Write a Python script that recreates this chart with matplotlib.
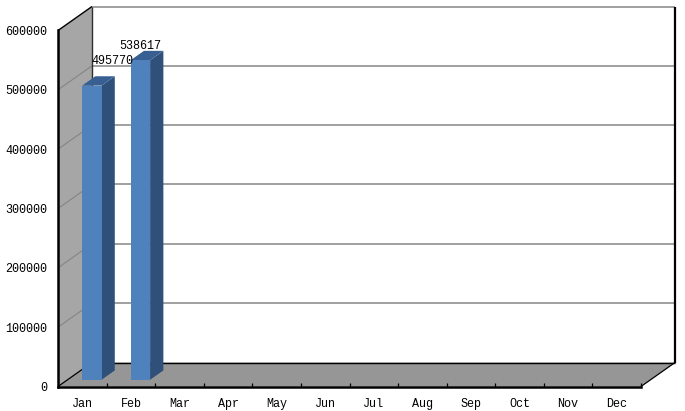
import matplotlib
matplotlib.use('Agg')
import matplotlib.pyplot as plt
from matplotlib.patches import Polygon

months = ['Jan', 'Feb', 'Mar', 'Apr', 'May', 'Jun', 'Jul', 'Aug', 'Sep', 'Oct', 'Nov', 'Dec']
values = [495770, 538617]
label_shift = [0.62, 0.2]
label_lift = [40000, 23500]
y_ticks = [0, 100000, 200000, 300000, 400000, 500000, 600000]

W, H = 685, 411
left, right, bottom, top = 58, 641, 386.5, 30.5
plt.rcParams['font.family'] = ['Liberation Mono', 'DejaVu Sans']
plt.rcParams['font.size'] = 8.5

fig = plt.figure(figsize=(W / 100, H / 100), dpi=100)
ax = fig.add_axes([left / W, 1 - bottom / H, (right - left) / W, (bottom - top) / H])
ax.set_xlim(0, 12)
ax.set_ylim(0, 600000)
ax.patch.set_visible(False)

# depth of the fake 3d box, as data units per full depth
depth_x = 34 / ((right - left) / 12)
depth_y = 24 / ((bottom - top) / 600000)


def pt(x, v, d=0.0):
    return (x + d * depth_x, v + d * depth_y)


def face(points, color, z=1, edge='none', lw=0):
    ax.add_patch(Polygon(points, closed=True, facecolor=color, edgecolor=edge,
                         linewidth=lw, zorder=z, clip_on=False))


def line(p, q, color='black', lw=1.0, z=2):
    ax.plot([p[0], q[0]], [p[1], q[1]], color=color, lw=lw, zorder=z,
            clip_on=False, solid_capstyle='butt')


# walls and floor
ymax = y_ticks[-1]
face([pt(0, 0, 0), pt(0, 0, 1), pt(0, ymax, 1), pt(0, ymax, 0)], '#a6a6a6')
face([pt(0, 0, 0), pt(12, 0, 0), pt(12, 0, 1), pt(0, 0, 1)], '#969696')

# gridlines on side wall and back wall
for v in y_ticks[1:-1]:
    line(pt(0, v, 0), pt(0, v, 1), '#858585', 0.8)
    line(pt(0, v, 1), pt(12, v, 1), '#999999', 1.3)

line(pt(0, ymax, 1), pt(12, ymax, 1), '#999999', 1.3)
line(pt(0, 0, 1), pt(0, ymax, 1), '#303030', 1.0)
line(pt(12, 0, 1), pt(12, ymax, 1), 'black', 1.6)
line(pt(0, 0, 1), pt(12, 0, 1), 'black', 1.0)
line(pt(0, 0, 0), pt(0, 0, 1), 'black', 0.9)
line(pt(12, 0, 0), pt(12, 0, 1), 'black', 0.9)
line(pt(0, ymax, 0), pt(0, ymax, 1), 'black', 1.0)

# bars
bar_w = 0.40
d0, d1 = 0.28, 0.67
for i, val in enumerate(values):
    x0 = i + 0.5 - bar_w / 2
    x1 = x0 + bar_w
    face([pt(x1, 0, d0), pt(x1, 0, d1), pt(x1, val, d1), pt(x1, val, d0)], '#2f5078', 3)
    face([pt(x0, val, d0), pt(x1, val, d0), pt(x1, val, d1), pt(x0, val, d1)], '#375f92', 3)
    face([pt(x0, 0, d0), pt(x1, 0, d0), pt(x1, val, d0), pt(x0, val, d0)], '#4f81bd', 4)
    ax.text(i + 0.5 + label_shift[i], val + label_lift[i] + 0.5 * depth_y * 0.6,
            str(val), ha='center', va='center', zorder=6, clip_on=False)

# axes
for s in ['top', 'right']:
    ax.spines[s].set_visible(False)
for s in ['left', 'bottom']:
    ax.spines[s].set_linewidth(1.8)
    ax.spines[s].set_zorder(5)
ax.set_yticks(y_ticks)
ax.set_yticklabels([str(v) for v in y_ticks])
ax.set_xticks(range(1, 13))
ax.set_xticklabels([])
ax.set_xticks([i + 0.5 for i in range(12)], minor=True)
ax.set_xticklabels(months, minor=True)
ax.tick_params(axis='x', which='major', direction='in', length=3, width=0.9, color='black')
ax.tick_params(axis='x', which='minor', length=0, pad=8)
ax.tick_params(axis='y', length=0, pad=8)

fig.savefig('out.png', dpi=100)
